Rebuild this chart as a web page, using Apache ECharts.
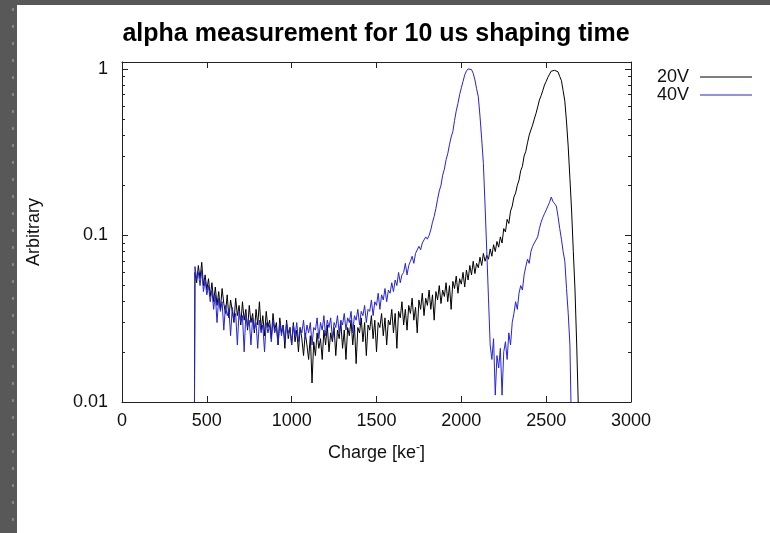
<!DOCTYPE html>
<html><head><meta charset="utf-8">
<script src="https://cdn.jsdelivr.net/npm/echarts@6/dist/echarts.min.js"></script>
<style>
html,body{margin:0;padding:0;width:770px;height:533px;overflow:hidden;background:#585858;}
#strip{position:absolute;left:12px;top:4px;width:2px;height:529px;background:repeating-linear-gradient(to bottom,transparent 0,transparent 4px,#868686 4px,#868686 7px,transparent 7px,transparent 17px);}
#chart{position:absolute;left:17px;top:5px;width:753px;height:528px;background:#fff;}
</style></head>
<body><div id="strip"></div><div id="chart"></div>
<script>
// histogram bins (ke), regular grid
const binStart = 420, binWidth = 10;
const seriesNames = ['20V', '40V'];
const xTicks = [0, 500, 1000, 1500, 2000, 2500, 3000];
const yMajor = [0.01, 0.1, 1];
const yMinor = [0.02,0.03,0.04,0.05,0.06,0.07,0.08,0.09,0.2,0.3,0.4,0.5,0.6,0.7,0.8,0.9];

const v20 = [
0.0001,0.060,0.052,0.066,0.055,0.069,0.050,0.058,0.047,0.055,
0.043,0.052,0.040,0.049,0.038,0.046,0.036,0.048,0.039,0.034,
0.044,0.032,0.041,0.035,0.030,0.042,0.033,0.038,0.029,0.040,
0.031,0.036,0.027,0.038,0.030,0.034,0.026,0.036,0.029,0.040,
0.027,0.033,0.025,0.035,0.028,0.031,0.024,0.034,0.027,0.030,
0.022,0.032,0.026,0.029,0.021,0.031,0.024,0.028,0.022,0.030,
0.023,0.027,0.020,0.028,0.024,0.019,0.026,0.022,0.018,0.025,
0.013,0.023,0.019,0.026,0.021,0.024,0.018,0.027,0.022,0.029,
0.020,0.026,0.023,0.028,0.019,0.027,0.024,0.030,0.021,0.027,
0.018,0.028,0.025,0.031,0.022,0.029,0.017,0.028,0.026,0.032,
0.023,0.030,0.019,0.029,0.027,0.033,0.024,0.031,0.020,0.030,
0.028,0.034,0.025,0.032,0.022,0.031,0.029,0.036,0.026,0.034,
0.021,0.035,0.032,0.040,0.029,0.036,0.027,0.038,0.034,0.042,
0.031,0.037,0.026,0.041,0.036,0.045,0.033,0.042,0.038,0.047,
0.036,0.044,0.031,0.046,0.041,0.050,0.039,0.047,0.043,0.052,
0.040,0.050,0.036,0.053,0.048,0.057,0.045,0.055,0.051,0.060,
0.049,0.062,0.054,0.066,0.058,0.070,0.059,0.068,0.064,0.074,
0.066,0.078,0.070,0.076,0.072,0.083,0.075,0.088,0.080,0.092,
0.085,0.098,0.090,0.110,0.105,0.125,0.118,0.140,0.150,0.170,
0.180,0.200,0.215,0.245,0.260,0.300,0.320,0.360,0.400,0.430,
0.460,0.500,0.540,0.590,0.650,0.690,0.740,0.800,0.840,0.890,
0.930,0.970,0.990,0.980,1.000,0.960,0.900,0.850,0.740,0.640,
0.480,0.340,0.220,0.140,0.080,0.047,0.022,0.009,0.0001
];

const v40 = [
0.0001,0.065,0.055,0.060,0.050,0.062,0.046,0.054,0.044,0.050,
0.040,0.047,0.036,0.044,0.030,0.042,0.035,0.040,0.027,0.038,
0.033,0.036,0.025,0.037,0.031,0.034,0.022,0.035,0.030,0.033,
0.020,0.034,0.028,0.031,0.022,0.032,0.027,0.030,0.021,0.031,
0.026,0.029,0.020,0.030,0.026,0.029,0.023,0.031,0.026,0.028,
0.022,0.030,0.025,0.029,0.023,0.030,0.026,0.028,0.022,0.029,
0.025,0.030,0.023,0.028,0.026,0.031,0.024,0.029,0.026,0.030,
0.022,0.028,0.027,0.032,0.024,0.030,0.027,0.033,0.025,0.031,
0.028,0.032,0.024,0.030,0.028,0.033,0.026,0.031,0.029,0.034,
0.027,0.032,0.030,0.035,0.026,0.033,0.031,0.036,0.029,0.035,
0.033,0.038,0.030,0.036,0.035,0.041,0.033,0.040,0.038,0.045,
0.036,0.044,0.041,0.048,0.040,0.047,0.045,0.052,0.046,0.054,
0.050,0.060,0.052,0.058,0.060,0.068,0.058,0.066,0.070,0.075,
0.068,0.078,0.080,0.086,0.082,0.090,0.094,0.098,0.095,0.100,
0.108,0.120,0.130,0.145,0.165,0.185,0.200,0.230,0.250,0.285,
0.310,0.350,0.390,0.420,0.490,0.560,0.620,0.700,0.770,0.840,
0.920,0.970,1.000,0.980,0.990,0.940,0.860,0.760,0.680,0.520,
0.380,0.270,0.150,0.080,0.042,0.022,0.018,0.024,0.011,0.019,
0.016,0.021,0.011,0.020,0.023,0.018,0.026,0.022,0.030,0.034,
0.040,0.036,0.045,0.050,0.047,0.058,0.065,0.072,0.068,0.080,
0.086,0.090,0.092,0.098,0.110,0.120,0.128,0.135,0.142,0.150,
0.158,0.170,0.160,0.155,0.150,0.130,0.110,0.095,0.080,0.070,
0.048,0.034,0.022,0.006,0.0001
];

const FONT = '"Liberation Sans", Arial, Helvetica, sans-serif';
const INK = '#111';
const COLORS = ['#000000', '#2424d8'];
const toPairs = arr => arr.map((v, i) => [binStart + i * binWidth, v]);
const fmt = v => String(+Number(v).toPrecision(3));

const yBase = {
  type: 'log', logBase: 10, min: 0.01, max: 1.1,
  splitLine: {show: false}
};
function yAx(pos, ticks, len, showLine, showLabel, extra) {
  return Object.assign({}, yBase, {
    position: pos,
    axisLine: {show: showLine, lineStyle: {color: '#222', width: 1}},
    axisTick: {show: true, inside: true, length: len, customValues: ticks, lineStyle: {color: '#222', width: 1}},
    axisLabel: {show: showLabel, customValues: yMajor, formatter: fmt, fontSize: 18, fontFamily: FONT, color: INK, margin: 14}
  }, extra || {});
}
function xAx(pos, showLabel, extra) {
  return Object.assign({
    type: 'value', min: 0, max: 3000, interval: 500, position: pos,
    splitLine: {show: false},
    axisLine: {show: true, lineStyle: {color: '#222', width: 1}},
    axisTick: {show: true, inside: true, length: 6, lineStyle: {color: '#222', width: 1}},
    axisLabel: {show: showLabel, fontSize: 18, fontFamily: FONT, color: INK, margin: 10,
      customValues: xTicks, formatter: v => String(v)}
  }, extra || {});
}

const chart = echarts.init(document.getElementById('chart'), null, {renderer: 'canvas'});
chart.setOption({
  animation: false,
  backgroundColor: '#ffffff',
  title: {
    text: 'alpha measurement for 10 us shaping time',
    left: 359, top: 17, textAlign: 'center', padding: 0,
    textStyle: {fontSize: 25, fontWeight: 'bold', fontFamily: FONT, color: '#000'}
  },
  legend: {
    data: seriesNames.map((n, i) => ({name: n, icon: 'rect', itemStyle: {color: COLORS[i]}})),
    orient: 'vertical', right: 13, top: 58, align: 'right',
    itemWidth: 52, itemHeight: 1, itemGap: 0,
    textStyle: {fontSize: 18, fontFamily: FONT, color: INK, lineHeight: 18, padding: [0, 6, 0, 0]}
  },
  grid: {left: 104, top: 57, width: 510, height: 340, containLabel: false},
  xAxis: [
    xAx('bottom', true, {
      name: 'Charge [ke{s|-}]', nameLocation: 'middle', nameGap: 40,
      nameTextStyle: {fontSize: 18, fontFamily: FONT, color: INK,
        rich: {s: {fontSize: 12, fontFamily: FONT, color: INK, padding: [0, 0, 10, 0]}}}
    }),
    xAx('top', false)
  ],
  yAxis: [
    yAx('left', yMajor, 6, true, true, {
      name: 'Arbitrary', nameLocation: 'middle', nameGap: 79, nameRotate: 90,
      nameTextStyle: {fontSize: 18, fontFamily: FONT, color: INK}
    }),
    yAx('left', yMinor, 3, false, false),
    yAx('right', yMajor, 6, true, false),
    yAx('right', yMinor, 3, false, false)
  ],
  series: [
    {name: seriesNames[0], type: 'line', data: toPairs(v20), symbol: 'none', showSymbol: false,
     xAxisIndex: 0, yAxisIndex: 0, clip: true,
     lineStyle: {color: COLORS[0], width: 1}, itemStyle: {color: COLORS[0]}},
    {name: seriesNames[1], type: 'line', data: toPairs(v40), symbol: 'none', showSymbol: false,
     xAxisIndex: 0, yAxisIndex: 0, clip: true,
     lineStyle: {color: COLORS[1], width: 1}, itemStyle: {color: COLORS[1]}}
  ]
});
</script>
</body></html>
